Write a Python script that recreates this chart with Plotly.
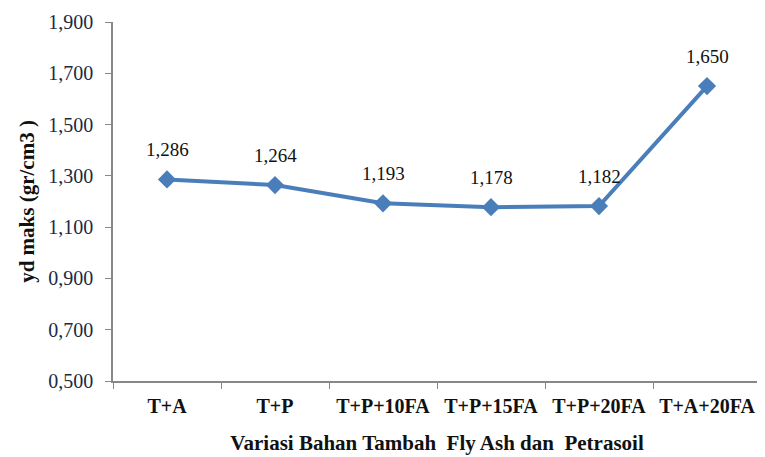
import plotly.graph_objects as go

categories = ["T+A", "T+P", "T+P+10FA", "T+P+15FA", "T+P+20FA", "T+A+20FA"]
values = [1.286, 1.264, 1.193, 1.178, 1.182, 1.650]
y_ticks = [0.5, 0.7, 0.9, 1.1, 1.3, 1.5, 1.7, 1.9]
y_tick_labels = ["0,500", "0,700", "0,900", "1,100", "1,300", "1,500", "1,700", "1,900"]
value_labels = [f"{v:.3f}".replace(".", ",") for v in values]

FONT = "Times New Roman, Liberation Serif, DejaVu Serif, serif"
fig = go.Figure()
fig.add_trace(go.Scatter(
    x=categories, y=values, mode="lines+markers",
    line=dict(color="#4A7EBB", width=4),
    marker=dict(symbol="diamond", size=14, color="#4A7EBB"),
    cliponaxis=False,
))
for c, v, t in zip(categories, values, value_labels):
    fig.add_annotation(x=c, y=v, text=t, showarrow=False, yshift=30,
                       font=dict(family=FONT, size=19, color="#111"))

# page body has an 8px margin: compensate so the plot area lands at x 113-761, y 22-381
fig.update_layout(
    width=765, height=457,
    margin=dict(l=105, r=12, t=14, b=84, autoexpand=False),
    plot_bgcolor="white", paper_bgcolor="white",
    showlegend=False,
    font=dict(family=FONT, color="#111"),
)
fig.update_xaxes(
    type="category", range=[-0.5, 5.5], automargin=False,
    showline=True, linecolor="#888", linewidth=1.5,
    ticks="outside", tickson="boundaries", ticklen=6, tickcolor="#888",
    tickfont=dict(family=FONT, size=20, color="#111", weight="bold"),
    tickangle=0, ticklabelstandoff=6,
    showgrid=False,
    title=dict(text="<b>Variasi Bahan Tambah  Fly Ash dan  Petrasoil</b>",
               font=dict(family=FONT, size=21, color="#111"), standoff=20),
)
fig.update_yaxes(
    range=[0.5, 1.9], tickvals=y_ticks, ticktext=y_tick_labels, automargin=False,
    showline=True, linecolor="#888", linewidth=1.5,
    ticks="outside", ticklen=6, tickcolor="#888",
    tickfont=dict(family=FONT, size=20, color="#1a2a44"),
    ticklabelstandoff=8,
    showgrid=False, zeroline=False,
    title=dict(text="<b>yd maks (gr/cm3 )</b>",
               font=dict(family=FONT, size=21, color="#111"), standoff=8),
)
fig.write_html("out.html")
